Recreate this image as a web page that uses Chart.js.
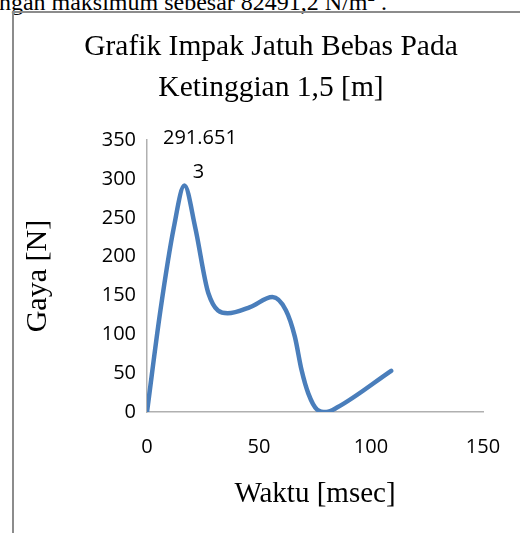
<!DOCTYPE html>
<html>
<head>
<meta charset="utf-8">
<script src="https://cdn.jsdelivr.net/npm/chart.js@4"></script>
<style>
  html, body { margin: 0; padding: 0; background: #fff; overflow: hidden; }
  body { width: 520px; height: 533px; position: relative; }
  #teks { position: absolute; right: 133px; top: -12px; white-space: nowrap;
          font: 24px "Liberation Serif", serif; color: #000; }
  #bingkai { position: absolute; left: 12px; top: 11px; width: 700px; height: 700px;
             border-left: 2px solid #8c8c8c; border-top: 2px solid #8c8c8c; }
  #wrap { position: absolute; left: 0; top: 0; width: 542px; height: 533px; }
</style>
</head>
<body>
<div id="teks">tegangan maksimum sebesar 82491,2 N/m<sup style="font-size:15px">2</sup> .</div>
<div id="bingkai"></div>
<div id="wrap"><canvas id="myChart"></canvas></div>
<script>
// data
var waktu = [0, 6, 12, 16.7, 21.5, 27.4, 36, 46, 56, 62, 66, 69, 72, 76, 80, 85, 109];
var gaya  = [0, 131, 238, 291.6513, 238, 153, 127, 135, 148, 131, 97, 54, 24, 3, 0, 6, 53];
var xTicks = [0, 50, 100, 150];
var yTicks = [0, 50, 100, 150, 200, 250, 300, 350];
var labelPuncak = ["291.651", "3"];

var tickFont = { family: "'Open Sans', sans-serif", size: 20 };
var serif = "'Liberation Serif', 'Times New Roman', serif";

// label di titik puncak
var labelPlugin = {
    id: 'labelPuncak',
    afterDatasetsDraw: function(chart) {
        var iMax = gaya.indexOf(Math.max.apply(null, gaya));
        var pt = chart.getDatasetMeta(0).data[iMax];
        var ctx = chart.ctx;
        ctx.save();
        ctx.font = "20px 'Open Sans', sans-serif";
        ctx.fillStyle = '#000';
        ctx.textAlign = 'center';
        ctx.textBaseline = 'middle';
        ctx.fillText(labelPuncak[0], pt.x + 15.5, pt.y - 47);
        ctx.fillText(labelPuncak[1], pt.x + 14, pt.y - 13.5);
        ctx.restore();
    }
};

function renderChart() {
    var ctx = document.getElementById("myChart").getContext('2d');
    var myChart = new Chart(ctx, {
        type: 'line',
        data: {
            datasets: [{
                label: 'Gaya',
                data: waktu.map(function(t, i) { return { x: t, y: gaya[i] }; }),
                borderColor: '#4a7ebb',
                borderWidth: 4.5,
                borderCapStyle: 'round',
                borderJoinStyle: 'round',
                cubicInterpolationMode: 'monotone',
                pointRadius: 0,
                fill: false
            }]
        },
        options: {
            responsive: false,
            animation: false,
            layout: { padding: 0 },
            plugins: {
                legend: { display: false },
                tooltip: { enabled: false },
                title: {
                    display: true,
                    text: ['Grafik Impak Jatuh Bebas Pada', 'Ketinggian 1,5 [m]'],
                    color: '#000',
                    font: { family: serif, size: 29.5, weight: 'normal', lineHeight: 1.41 },
                    padding: { top: 26, bottom: 31 }
                }
            },
            scales: {
                x: {
                    type: 'linear',
                    min: 0, max: 150,
                    afterBuildTicks: function(s) { s.ticks = xTicks.map(function(v) { return { value: v }; }); },
                    afterFit: function(s) { s.height = 121; },
                    grid: { display: false, drawTicks: false },
                    border: { color: '#b0b0b0', width: 1.5 },
                    ticks: { color: '#000', font: tickFont, padding: 23, maxRotation: 0 },
                    title: {
                        display: true, text: 'Waktu [msec]', color: '#000',
                        font: { family: serif, size: 29, lineHeight: 1.2 },
                        padding: { bottom: 21 }
                    }
                },
                y: {
                    min: 0, max: 350,
                    afterBuildTicks: function(s) { s.ticks = yTicks.map(function(v) { return { value: v }; }); },
                    afterFit: function(s) { s.width = 147; },
                    grid: { display: false, drawTicks: false },
                    border: { color: '#b0b0b0', width: 1.5 },
                    ticks: { color: '#000', font: tickFont, padding: 11 },
                    title: {
                        display: true, text: 'Gaya [N]', color: '#000',
                        font: { family: serif, size: 30, lineHeight: 1.2 },
                        padding: { top: 20 }
                    }
                },
                kanan: {
                    position: 'right',
                    display: true,
                    grid: { display: false, drawTicks: false },
                    border: { display: false },
                    ticks: { display: false },
                    afterFit: function(s) { s.width = 59; }
                }
            }
        },
        plugins: [labelPlugin]
    });
}

var c = document.getElementById("myChart");
c.width = 542; c.height = 533;
renderChart();
</script>
</body>
</html>
